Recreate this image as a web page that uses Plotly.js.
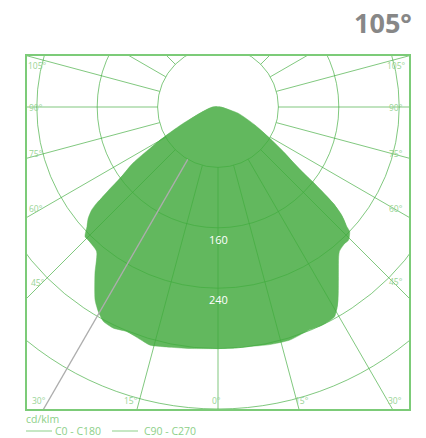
<!DOCTYPE html>
<html>
<head>
<meta charset="utf-8">
<script src="https://cdn.plot.ly/plotly-3.0.1.min.js"></script>
<style>
  html, body { margin: 0; padding: 0; background: #ffffff; }
  #chart { width: 426px; height: 438px; }
</style>
</head>
<body>
<div id="chart"></div>
<script>
// ---- Data (cd/klm), gamma angle in degrees measured from nadir ----
const c0Angles   = [0, 4.3, 7.4, 12.2, 17, 19.6, 22.3, 25.6, 29, 30.5, 31.8, 34.7, 37.8, 41.1, 44.4, 46.6, 47.1, 48.9, 50.1, 51.7, 52.6, 55.4, 58.9, 64.1, 72.8, 79.5, 85, 90, 100, 120, 180];
const c0Values   = [320, 320, 320, 322, 323, 321, 319, 320, 318, 310, 301, 279, 256, 246, 247, 240, 233, 217, 199, 160, 134, 108, 80, 54, 28, 9, 5, 3, 1, 0, 0];
const c180Angles = [0, 6.6, 12.1, 15.9, 19, 22.1, 25.3, 28.1, 30.3, 32.5, 36.5, 40.3, 43.5, 45.7, 47.6, 49.3, 50.8, 51.6, 52.7, 56.6, 58.7, 61.4, 64.8, 70.7, 80, 90, 95.7, 105, 120, 180];
const c180Values = [320, 322, 325, 328, 324, 321, 324, 322, 314, 303, 274, 248, 246, 246, 235, 227, 216, 205, 175, 135, 105, 77, 51, 25, 13, 7, 4, 2, 0, 0];
const c90Angles  = [0, 10, 20, 30, 35, 40, 45, 48, 50, 52, 55, 60, 70, 80, 90, 120, 180];
const c90Values  = [318, 320, 318, 312, 278, 250, 244, 225, 200, 150, 108, 72, 28, 9, 3, 0, 0];
const c270Angles = [0, 10, 20, 30, 35, 40, 45, 48, 50, 52, 55, 60, 70, 80, 90, 120, 180];
const c270Values = [318, 322, 322, 314, 282, 250, 245, 232, 220, 195, 145, 90, 28, 12, 6, 0, 0];

const seriesNames = ['C0 - C180', 'C90 - C270'];
const ringValues  = [80, 160, 240, 320, 400];
const ringLabels  = ['160', '240'];
const ringLabelValues = [160, 240];
const spokeAngles = [0, 15, 30, 45, 60, 75, 90, 105, 120, 135, 150, 165, 180];
const angleLabels = ['105°', '90°', '75°', '60°', '45°', '30°', '15°', '0°'];
const titleText = '105°';
const unitText = 'cd/klm';

// ---- Geometry ----
const W = 426, H = 438;
const L = 26, R = 410, T = 55, B = 410;       // plot frame in px
const CX = 218, CY = 107;                      // polar centre in px
const K = 0.755;                               // px per cd/klm
const xr = [(L - CX) / K, (R - CX) / K];
const yr = [-(B - CY) / K, (CY - T) / K];
const rad = d => d * Math.PI / 180;

function outline(rightA, rightV, leftA, leftV) {
  const x = [], y = [];
  for (let i = 0; i < rightA.length; i++) {
    x.push(rightV[i] * Math.sin(rad(rightA[i])));
    y.push(-rightV[i] * Math.cos(rad(rightA[i])));
  }
  for (let i = leftA.length - 1; i >= 0; i--) {
    x.push(-leftV[i] * Math.sin(rad(leftA[i])));
    y.push(-leftV[i] * Math.cos(rad(leftA[i])));
  }
  x.push(x[0]); y.push(y[0]);
  return {x, y};
}

const FILL = '#62b85e';
const GRID = 'rgba(64,172,60,0.66)';
const LABEL = '#98d495';
const LEGEND = '#8dd089';

const o1 = outline(c90Angles, c90Values, c270Angles, c270Values);
const o0 = outline(c0Angles, c0Values, c180Angles, c180Values);

const traces = [
  {x: o1.x, y: o1.y, mode: 'lines', fill: 'toself', fillcolor: FILL,
   line: {color: FILL, width: 0.5, shape: 'spline', smoothing: 0.6}, hoverinfo: 'skip', showlegend: false, name: seriesNames[1]},
  {x: o0.x, y: o0.y, mode: 'lines', fill: 'toself', fillcolor: FILL,
   line: {color: FILL, width: 0.5, shape: 'spline', smoothing: 0.6}, hoverinfo: 'skip', showlegend: false, name: seriesNames[0]}
];

const px = p => (p - L) / (R - L);
const py = p => (B - p) / (B - T);

const shapes = [];
ringValues.forEach(r => shapes.push({
  type: 'circle', xref: 'x', yref: 'y', x0: -r, x1: r, y0: -r, y1: r,
  line: {color: GRID, width: 1}, layer: 'above'
}));
spokeAngles.forEach(a => {
  [1, -1].forEach(side => {
    if ((a === 0 || a === 180) && side === -1) return;
    const s = Math.sin(rad(a)) * side, c = -Math.cos(rad(a));
    const gray = (a === 30 && side === -1);
    shapes.push({
      type: 'line', xref: 'x', yref: 'y',
      x0: 80 * s, y0: 80 * c, x1: 700 * s, y1: 700 * c,
      line: {color: gray ? '#adadad' : GRID, width: gray ? 1.3 : 1}, layer: 'above'
    });
  });
});
shapes.push({type: 'rect', xref: 'paper', yref: 'paper', x0: 0, x1: 1, y0: 0, y1: 1,
  line: {color: '#7ccb78', width: 2}, layer: 'above'});
// legend line samples
shapes.push({type: 'line', xref: 'paper', yref: 'paper', x0: px(26), x1: px(52), y0: py(431), y1: py(431),
  line: {color: LEGEND, width: 1}});
shapes.push({type: 'line', xref: 'paper', yref: 'paper', x0: px(112), x1: px(138), y0: py(431), y1: py(431),
  line: {color: LEGEND, width: 1}});

const annotations = [];
const leftPos  = [[37, 66], [36, 107], [36, 153], [36, 208], [38, 282], [39, 400], [131, 400], [216, 400]];
const rightPos = [[396, 66], [396, 107], [396, 153], [396, 208], [396, 281], [395, 400], [302, 400]];
const angleFont = {family: 'Open Sans', size: 8.5, color: LABEL};
leftPos.forEach((p, i) => annotations.push({xref: 'paper', yref: 'paper', x: px(p[0]), y: py(p[1]),
  xanchor: 'center', yanchor: 'middle', text: angleLabels[i], showarrow: false, font: angleFont}));
rightPos.forEach((p, i) => annotations.push({xref: 'paper', yref: 'paper', x: px(p[0]), y: py(p[1]),
  xanchor: 'center', yanchor: 'middle', text: angleLabels[i], showarrow: false, font: angleFont}));
ringLabelValues.forEach((v, i) => annotations.push({xref: 'x', yref: 'y', x: 0, y: -v - 3,
  xanchor: 'center', yanchor: 'top', text: ringLabels[i], showarrow: false,
  font: {family: 'Open Sans', size: 11, color: '#ffffff'}}));
annotations.push({xref: 'paper', yref: 'paper', x: px(414), y: py(23), xanchor: 'right', yanchor: 'middle',
  text: '<b>' + titleText + '</b>', showarrow: false,
  font: {family: 'Open Sans', size: 27, color: '#878787'}});
// legend texts
annotations.push({xref: 'paper', yref: 'paper', x: px(24), y: py(419), xanchor: 'left', yanchor: 'middle',
  text: unitText, showarrow: false, font: {family: 'Open Sans', size: 10.5, color: LEGEND}});
annotations.push({xref: 'paper', yref: 'paper', x: px(53), y: py(431), xanchor: 'left', yanchor: 'middle',
  text: seriesNames[0], showarrow: false, font: {family: 'Open Sans', size: 10.5, color: LEGEND}});
annotations.push({xref: 'paper', yref: 'paper', x: px(142), y: py(431), xanchor: 'left', yanchor: 'middle',
  text: seriesNames[1], showarrow: false, font: {family: 'Open Sans', size: 10.5, color: LEGEND}});

const layout = {
  width: W, height: H,
  margin: {l: L, r: W - R, t: T, b: H - B, pad: 0, autoexpand: false},
  paper_bgcolor: '#ffffff', plot_bgcolor: '#ffffff',
  xaxis: {range: xr, visible: false, fixedrange: true},
  yaxis: {range: yr, visible: false, fixedrange: true},
  shapes, annotations,
  showlegend: false
};

Plotly.newPlot('chart', traces, layout, {staticPlot: true, displayModeBar: false});
</script>
</body>
</html>
